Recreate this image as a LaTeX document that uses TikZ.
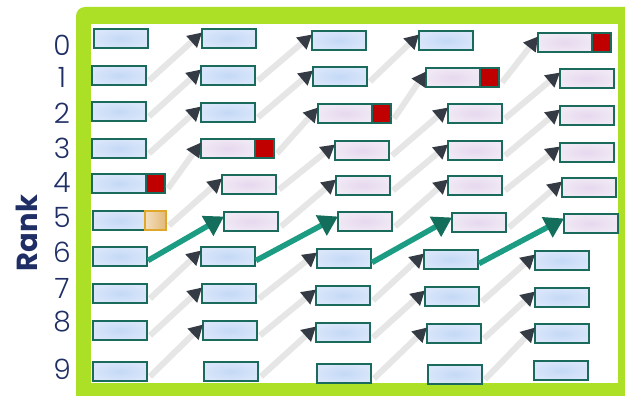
\documentclass[tikz,border=0pt]{standalone}
\usepackage{fontspec}
\setmainfont{Poppins}
\newfontfamily\digitfont{Poppins Light}
\usetikzlibrary{arrows.meta}
\definecolor{lime}{HTML}{ABE026}
\definecolor{boxborder}{HTML}{1B6B5C}
\definecolor{navy}{HTML}{1F2F66}
\definecolor{graylink}{HTML}{E6E6E6}
\definecolor{arrowdark}{HTML}{343B45}
\definecolor{tealline}{HTML}{1C9C82}
\definecolor{tealdark}{HTML}{146E5C}
\definecolor{redsq}{HTML}{C00000}
\definecolor{blueIn}{HTML}{C4D9F6}
\definecolor{blueOut}{HTML}{D8E5FA}
\definecolor{pinkIn}{HTML}{E6D8EF}
\definecolor{pinkOut}{HTML}{F0E8F4}
\definecolor{orangeA}{HTML}{F4DFBE}
\definecolor{orangeB}{HTML}{E2B878}
\definecolor{orangeEdge}{HTML}{E0A82A}
\tikzset{
  cell/.style={draw=boxborder, line width=1.5pt, minimum width=54pt, minimum height=19pt,
    inner sep=0pt, outer sep=0pt, anchor=north west},
  bluecell/.style={cell, inner color=blueIn, outer color=blueOut},
  pinkcell/.style={cell, inner color=pinkIn, outer color=pinkOut},
  redcell/.style={cell, minimum width=19pt, fill=redsq},
  orangecell/.style={cell, minimum width=21pt, draw=orangeEdge, left color=orangeA, right color=orangeB},
  link/.style={draw=graylink, line width=6pt,
    -{Triangle[length=14pt,width=15pt,color=arrowdark]}},
  hot/.style={draw=tealline, line width=5.5pt,
    -{Triangle[length=19pt,width=22pt,color=tealdark]}},
  ranknum/.style={text=navy, font=\digitfont\fontsize{28}{28}\selectfont, inner sep=0pt, anchor=center},
  ranklabel/.style={text=navy, font=\fontsize{29}{29}\selectfont\bfseries, inner sep=0pt, rotate=90, anchor=center}
}
\begin{document}
\begin{tikzpicture}[x=1pt,y=-1pt]
\clip (0,0) rectangle (625,396);
\fill[lime, rounded corners=9pt] (76,7) rectangle (645,410);
\fill[white] (91,24) rectangle (618,383);

% rank labels
\node[ranklabel] (rank) at (27,233) {Rank};
\node[ranknum] (n0) at (62,45) {0};
\node[ranknum] (n1) at (62,77) {1};
\node[ranknum] (n2) at (62,113) {2};
\node[ranknum] (n3) at (62,148) {3};
\node[ranknum] (n4) at (62,183) {4};
\node[ranknum] (n5) at (62,217) {5};
\node[ranknum] (n6) at (62,252) {6};
\node[ranknum] (n7) at (62,288) {7};
\node[ranknum] (n8) at (62,322) {8};
\node[ranknum] (n9) at (62,369) {9};

% column 0
\node[bluecell, alias=e0r0] (c0r0) at (94,29) {};
\node[bluecell, alias=e0r1] (c0r1) at (92,66) {};
\node[bluecell, alias=e0r2] (c0r2) at (92,102) {};
\node[bluecell, alias=e0r3] (c0r3) at (92,139) {};
\node[bluecell] (c0r4) at (92,174) {};
\node[redcell] (e0r4) at (c0r4.north east) {};
\node[bluecell, minimum width=52pt] (c0r5) at (93,211) {};
\node[orangecell] (e0r5) at (c0r5.north east) {};
\node[bluecell, alias=e0r6] (c0r6) at (93,247) {};
\node[bluecell, alias=e0r7] (c0r7) at (93,284) {};
\node[bluecell, alias=e0r8] (c0r8) at (93,321) {};
\node[bluecell, alias=e0r9] (c0r9) at (93,362) {};

% column 1
\node[bluecell, alias=e1r0] (c1r0) at (202,29) {};
\node[bluecell, alias=e1r1] (c1r1) at (201,66) {};
\node[bluecell, alias=e1r2] (c1r2) at (201,103) {};
\node[pinkcell] (c1r3) at (201,139) {};
\node[redcell] (e1r3) at (c1r3.north east) {};
\node[pinkcell, alias=e1r4] (c1r4) at (222,175) {};
\node[pinkcell, alias=e1r5] (c1r5) at (224,212) {};
\node[bluecell, alias=e1r6] (c1r6) at (201,247) {};
\node[bluecell, alias=e1r7] (c1r7) at (202,284) {};
\node[bluecell, alias=e1r8] (c1r8) at (203,321) {};
\node[bluecell, alias=e1r9] (c1r9) at (204,362) {};

% column 2
\node[bluecell, alias=e2r0] (c2r0) at (312,31) {};
\node[bluecell, alias=e2r1] (c2r1) at (313,67) {};
\node[pinkcell] (c2r2) at (318,104) {};
\node[redcell] (e2r2) at (c2r2.north east) {};
\node[pinkcell, alias=e2r3] (c2r3) at (335,141) {};
\node[pinkcell, alias=e2r4] (c2r4) at (336,176) {};
\node[pinkcell, alias=e2r5] (c2r5) at (338,212) {};
\node[bluecell, alias=e2r6] (c2r6) at (317,249) {};
\node[bluecell, alias=e2r7] (c2r7) at (316,286) {};
\node[bluecell, alias=e2r8] (c2r8) at (316,323) {};
\node[bluecell, alias=e2r9] (c2r9) at (317,364) {};

% column 3
\node[bluecell, alias=e3r0] (c3r0) at (419,31) {};
\node[pinkcell] (c3r1) at (426,68) {};
\node[redcell] (e3r1) at (c3r1.north east) {};
\node[pinkcell, alias=e3r2] (c3r2) at (448,104) {};
\node[pinkcell, alias=e3r3] (c3r3) at (448,141) {};
\node[pinkcell, alias=e3r4] (c3r4) at (448,176) {};
\node[pinkcell, alias=e3r5] (c3r5) at (452,213) {};
\node[bluecell, alias=e3r6] (c3r6) at (424,250) {};
\node[bluecell, alias=e3r7] (c3r7) at (425,287) {};
\node[bluecell, alias=e3r8] (c3r8) at (427,324) {};
\node[bluecell, alias=e3r9] (c3r9) at (428,365) {};

% column 4
\node[pinkcell] (c4r0) at (538,33) {};
\node[redcell] (e4r0) at (c4r0.north east) {};
\node[pinkcell] (c4r1) at (560,69) {};
\node[pinkcell] (c4r2) at (560,106) {};
\node[pinkcell] (c4r3) at (560,143) {};
\node[pinkcell] (c4r4) at (562,178) {};
\node[pinkcell] (c4r5) at (564,214) {};
\node[bluecell] (c4r6) at (535,251) {};
\node[bluecell] (c4r7) at (535,288) {};
\node[bluecell] (c4r8) at (535,324) {};
\node[bluecell] (c4r9) at (534,361) {};

% connectors
\foreach \c [evaluate=\c as \cn using int(\c+1)] in {0,...,3}{
  \foreach \r [evaluate=\r as \rn using int(\r+1)] in {0,...,8}{
    \ifnum\r=5
      \draw[hot] ([xshift=1pt,yshift=-4pt]e\c r\rn.east) -- ([yshift=5pt]c\cn r\r.west);
    \else
      \draw[link] ([xshift=3pt,yshift=-5pt]e\c r\rn.east) -- ([yshift=6pt]c\cn r\r.west);
    \fi
  }
}
\end{tikzpicture}
\end{document}
